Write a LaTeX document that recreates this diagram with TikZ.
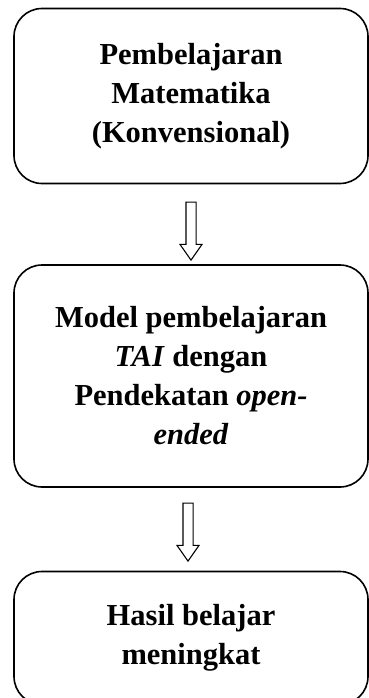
\documentclass[tikz,border=0pt]{standalone}
\usepackage{fontspec}
\setmainfont{Liberation Serif}
\usetikzlibrary{shapes.arrows}
\tikzset{box/.style={draw, line width=1.6pt, rounded corners=28pt, minimum width=354pt, align=center, font=\fontsize{30.5}{39}\selectfont\bfseries}}
\tikzset{down-arrow/.style={draw, line width=1.1pt, single arrow, rotate=-90, inner sep=4.5pt, single arrow head extend=6pt, single arrow tip angle=70, minimum height=58pt}}

\begin{document}
\begin{tikzpicture}[x=1pt, y=-1pt]
      \useasboundingbox (0, 0) rectangle (369, 698);

      \node[box, minimum height=175pt] (pemb) at (191, 96) {Pembelajaran\\Matematika\\(Konvensional)};
      \node[box, minimum height=222pt] (model) at (191, 376) {Model pembelajaran\\\textit{TAI} dengan\\Pendekatan \textit{open-}\\\textit{ended}};
      \node[box, minimum height=133pt] (hasil) at (191, 638) {Hasil belajar\\meningkat};

      \node[down-arrow] (a1) at (191, 227.5) {};
      \node[down-arrow] (a2) at (188, 528.5) {};
    \end{tikzpicture}
\end{document}
